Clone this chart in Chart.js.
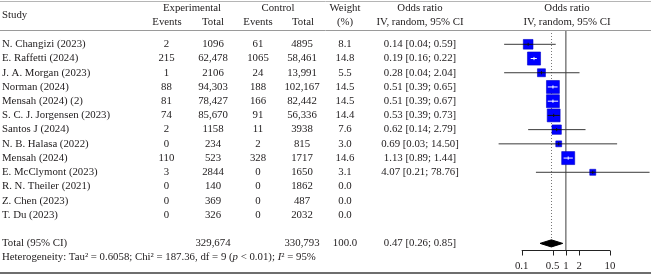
<!DOCTYPE html>
<html>
<head>
<meta charset="utf-8">
<script src="https://cdn.jsdelivr.net/npm/chart.js@4.4.1/dist/chart.umd.min.js"></script>
<style>
  html, body { margin: 0; padding: 0; background: #fff; }
  #wrap { width: 651px; height: 274px; }
</style>
</head>
<body>
<div id="wrap"><canvas id="forest" width="651" height="274"></canvas></div>
<script>
// study rows
const studies = [
  'N. Changizi (2023)', 'E. Raffetti (2024)', 'J. A. Morgan (2023)', 'Norman (2024)',
  'Mensah (2024) (2)', 'S. C. J. Jorgensen (2023)', 'Santos J (2024)', 'N. B. Halasa (2022)',
  'Mensah (2024)', 'E. McClymont (2023)', 'R. N. Theiler (2021)', 'Z. Chen (2023)', 'T. Du (2023)'
];
const expEvents = [2, 215, 1, 88, 81, 74, 2, 0, 110, 3, 0, 0, 0];
const expTotal = [1096, 62478, 2106, 94303, 78427, 85670, 1158, 234, 523, 2844, 140, 369, 326];
const ctrlEvents = [61, 1065, 24, 188, 166, 91, 11, 2, 328, 0, 0, 0, 0];
const ctrlTotal = [4895, 58461, 13991, 102167, 82442, 56336, 3938, 815, 1717, 1650, 1862, 487, 2032];
const weights = [8.1, 14.8, 5.5, 14.5, 14.5, 14.4, 7.6, 3.0, 14.6, 3.1, 0.0, 0.0, 0.0];
const oddsRatio = [0.14, 0.19, 0.28, 0.51, 0.51, 0.53, 0.62, 0.69, 1.13, 4.07, null, null, null];
const ciLower = [0.04, 0.16, 0.04, 0.39, 0.39, 0.39, 0.14, 0.03, 0.89, 0.21, null, null, null];
const ciUpper = [0.59, 0.22, 2.04, 0.65, 0.67, 0.73, 2.79, 14.50, 1.44, 78.76, null, null, null];

// pooled result
const totalExp = 329674;
const totalCtrl = 330793;
const totalWeight = 100.0;
const pooledOR = 0.47;
const pooledLower = 0.26;
const pooledUpper = 0.85;

const axisTicks = [0.1, 0.5, 1, 2, 10];

const FONT = '10.8px "Liberation Serif", "Times New Roman", serif';
const FONT_IT = 'italic 10.8px "Liberation Serif", "Times New Roman", serif';
const TEXT = '#1e1b1c';
const totalRow = studies.length + 1;
const diamondHalf = 0.25;

const fmt = n => n >= 10000 ? n.toLocaleString('en-US') : String(n);
const boxSide = w => 3.4 * Math.sqrt(w);

// confidence interval lines, one dataset per study
const ciSets = studies.map((s, i) => oddsRatio[i] == null ? null : {
  data: [{ x: ciLower[i], y: i }, { x: ciUpper[i], y: i }],
  showLine: true,
  borderColor: '#3a3a3a',
  borderWidth: 1,
  pointRadius: 0,
  clip: false,
  order: 3
}).filter(Boolean);

const boxIdx = studies.map((s, i) => i).filter(i => weights[i] > 0);
const boxSet = {
  data: boxIdx.map(i => ({ x: oddsRatio[i], y: i })),
  pointStyle: 'rect',
  pointRadius: boxIdx.map(i => boxSide(weights[i]) / Math.SQRT2),
  backgroundColor: '#0000ff',
  borderColor: '#0000c8',
  borderWidth: 0.6,
  clip: false,
  order: 1
};

const diamondTop = {
  data: [{ x: pooledLower, y: totalRow }, { x: pooledOR, y: totalRow - diamondHalf }, { x: pooledUpper, y: totalRow }],
  showLine: true, pointRadius: 0, borderColor: '#000', borderWidth: 1,
  backgroundColor: '#000', fill: '+1', tension: 0, order: 2
};
const diamondBottom = {
  data: [{ x: pooledLower, y: totalRow }, { x: pooledOR, y: totalRow + diamondHalf }, { x: pooledUpper, y: totalRow }],
  showLine: true, pointRadius: 0, borderColor: '#000', borderWidth: 1,
  backgroundColor: '#000', fill: false, tension: 0, order: 2
};

function text(ctx, s, x, y, align) {
  ctx.textAlign = align || 'center';
  ctx.fillText(s, x, y);
}

const forestPlugin = {
  id: 'forest',
  beforeDatasetsDraw(chart) {
    const { ctx, scales: { x, y }, chartArea } = chart;
    ctx.save();
    // line of no effect
    ctx.strokeStyle = '#6b6b6b';
    ctx.lineWidth = 1.3;
    ctx.beginPath();
    ctx.moveTo(x.getPixelForValue(1), chartArea.top);
    ctx.lineTo(x.getPixelForValue(1), chartArea.bottom);
    ctx.stroke();
    // pooled estimate (dotted)
    ctx.strokeStyle = '#777';
    ctx.lineWidth = 1;
    ctx.setLineDash([1, 2]);
    ctx.beginPath();
    ctx.moveTo(Math.round(x.getPixelForValue(pooledOR)) + 0.5, chartArea.top);
    ctx.lineTo(Math.round(x.getPixelForValue(pooledOR)) + 0.5, y.getPixelForValue(totalRow));
    ctx.stroke();
    ctx.restore();
  },
  afterDatasetsDraw(chart) {
    const { ctx, scales: { x, y } } = chart;
    ctx.save();
    // CI marks inside the squares
    boxIdx.forEach(i => {
      const px = x.getPixelForValue(oddsRatio[i]);
      const py = y.getPixelForValue(i);
      const side = boxSide(weights[i]);
      const lo = x.getPixelForValue(ciLower[i]);
      const hi = x.getPixelForValue(ciUpper[i]);
      const inside = (hi - lo) < 0.85 * side;
      ctx.strokeStyle = inside ? '#fff' : '#111';
      ctx.lineWidth = 1;
      ctx.beginPath();
      ctx.moveTo(Math.max(lo, px - side / 2), py);
      ctx.lineTo(Math.min(hi, px + side / 2), py);
      ctx.moveTo(px, py - 1.6);
      ctx.lineTo(px, py + 1.6);
      ctx.stroke();
    });
    // x axis
    const ay = 250.5;
    ctx.strokeStyle = '#222';
    ctx.lineWidth = 1;
    ctx.beginPath();
    ctx.moveTo(x.getPixelForValue(axisTicks[0]), ay);
    ctx.lineTo(x.getPixelForValue(axisTicks[axisTicks.length - 1]), ay);
    axisTicks.forEach(t => {
      const tx = Math.round(x.getPixelForValue(t)) + 0.5;
      ctx.moveTo(tx, ay);
      ctx.lineTo(tx, ay + 5);
    });
    ctx.stroke();
    ctx.fillStyle = TEXT;
    ctx.font = FONT;
    ctx.textBaseline = 'middle';
    axisTicks.forEach(t => text(ctx, String(t), x.getPixelForValue(t), 266));
    ctx.restore();
  },
  afterDraw(chart) {
    const { ctx, scales: { y }, width } = chart;
    ctx.save();
    // rules
    ctx.strokeStyle = '#b5b5b5';
    ctx.lineWidth = 1;
    ctx.beginPath();
    ctx.moveTo(0, 1.5); ctx.lineTo(width, 1.5);
    ctx.stroke();
    ctx.strokeStyle = '#9a9a9a';
    ctx.beginPath();
    ctx.moveTo(0, 30.5); ctx.lineTo(width, 30.5);
    ctx.stroke();
    ctx.strokeStyle = '#6e6e6e';
    ctx.lineWidth = 2;
    ctx.beginPath();
    ctx.moveTo(0, 273); ctx.lineTo(width, 273);
    ctx.stroke();

    ctx.fillStyle = TEXT;
    ctx.font = FONT;
    ctx.textBaseline = 'middle';
    // header
    text(ctx, 'Study', 2, 15, 'left');
    text(ctx, 'Experimental', 192, 8);
    text(ctx, 'Events', 167, 22);
    text(ctx, 'Total', 213, 22);
    text(ctx, 'Control', 278, 8);
    text(ctx, 'Events', 258, 22);
    text(ctx, 'Total', 303, 22);
    text(ctx, 'Weight', 345, 8);
    text(ctx, '(%)', 345, 22);
    text(ctx, 'Odds ratio', 420, 8);
    text(ctx, 'IV, random, 95% CI', 420, 22);
    text(ctx, 'Odds ratio', 567, 8);
    text(ctx, 'IV, random, 95% CI', 567, 22);

    // study rows
    studies.forEach((s, i) => {
      const py = y.getPixelForValue(i);
      text(ctx, s, 2, py, 'left');
      text(ctx, fmt(expEvents[i]), 166.5, py);
      text(ctx, fmt(expTotal[i]), 213, py);
      text(ctx, fmt(ctrlEvents[i]), 258, py);
      text(ctx, fmt(ctrlTotal[i]), 302, py);
      text(ctx, weights[i].toFixed(1), 345, py);
      if (oddsRatio[i] != null) {
        text(ctx, oddsRatio[i].toFixed(2) + ' [' + ciLower[i].toFixed(2) + '; ' + ciUpper[i].toFixed(2) + ']', 420, py);
      }
    });

    // total row
    const ty = y.getPixelForValue(totalRow);
    text(ctx, 'Total (95% CI)', 2, ty, 'left');
    text(ctx, fmt(totalExp), 213, ty);
    text(ctx, fmt(totalCtrl), 302, ty);
    text(ctx, totalWeight.toFixed(1), 345, ty);
    text(ctx, pooledOR.toFixed(2) + ' [' + pooledLower.toFixed(2) + '; ' + pooledUpper.toFixed(2) + ']', 420, ty);

    // heterogeneity
    const hy = y.getPixelForValue(totalRow + 1);
    const parts = [
      ['Heterogeneity: Tau\u00b2 = 0.6058; Chi\u00b2 = 187.36, df = 9 (', false],
      ['p', true],
      [' < 0.01); ', false],
      ['I', true],
      ['\u00b2 = 95%', false]
    ];
    let hx = 2;
    ctx.textAlign = 'left';
    parts.forEach(([s, it]) => {
      ctx.font = it ? FONT_IT : FONT;
      ctx.fillText(s, hx, hy);
      hx += ctx.measureText(s).width;
    });
    ctx.restore();
  }
};

new Chart(document.getElementById('forest'), {
  type: 'scatter',
  data: { datasets: [...ciSets, boxSet, diamondTop, diamondBottom] },
  options: {
    responsive: false,
    animation: false,
    events: [],
    layout: { padding: { left: 521.7, right: 41, top: 30, bottom: 23.5 } },
    scales: {
      x: { type: 'logarithmic', min: 0.1, max: 10, display: false },
      y: { type: 'linear', reverse: true, min: -1.006, max: 14.5, display: false }
    },
    plugins: { legend: { display: false }, tooltip: { enabled: false } }
  },
  plugins: [forestPlugin]
});
</script>
</body>
</html>
